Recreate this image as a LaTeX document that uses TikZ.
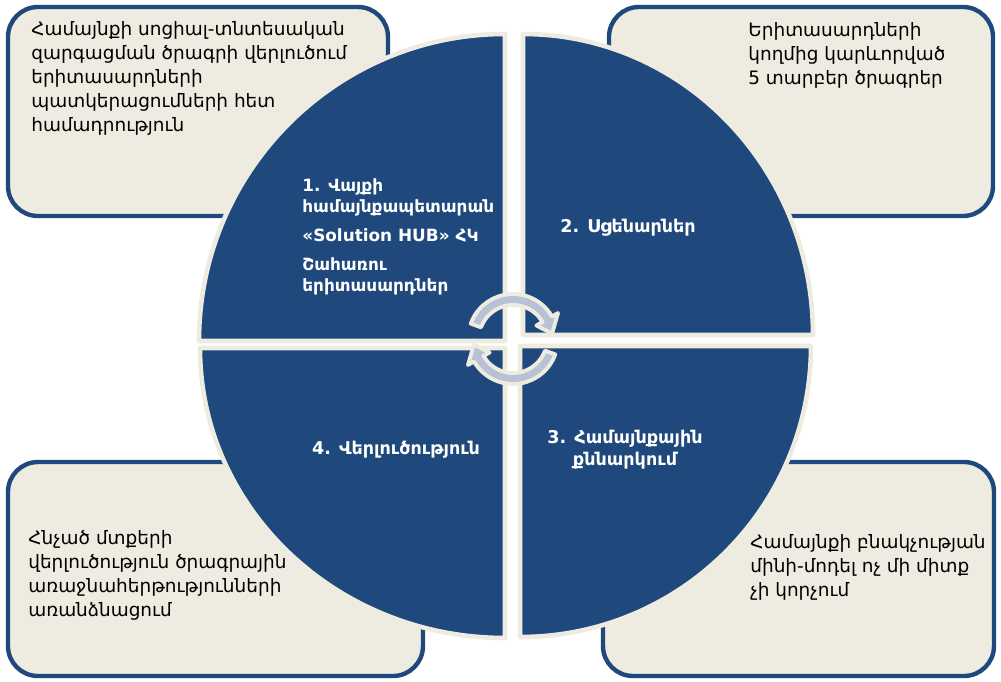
\documentclass[tikz,border=0pt]{standalone}
\usepackage{fontspec}
\setmainfont{DejaVu Sans}
\definecolor{hubblue}{RGB}{31,73,125}
\definecolor{hubbeige}{RGB}{238,236,225}
\definecolor{hubarrow}{RGB}{184,194,214}

\begin{document}
\begin{tikzpicture}[x=0.02cm,y=0.02cm,
  infobox/.style={draw=hubblue, fill=hubbeige, line width=2.5pt, rounded corners=0.6cm},
  quarter/.style={fill=hubblue, draw=hubbeige, line width=2.6pt, line join=round},
  turn/.style={fill=hubarrow, draw=hubbeige, line width=2.2pt, line join=round},
  boxtext/.style={anchor=north west, inner sep=0pt, align=left, font=\fontsize{10.5}{13.7}\selectfont},
  quartertext/.style={inner sep=0pt, text=white, font=\bfseries\fontsize{10}{12.5}\selectfont}]
\useasboundingbox (0,0) rectangle (1001,681);

% the four boxes
\draw[infobox] (8,674) rectangle (388,465);
\draw[infobox] (609,674) rectangle (993,465);
\draw[infobox] (8,219) rectangle (423,5);
\draw[infobox] (603,219) rectangle (994,5);

% the circle, cut in four
\draw[quarter] (505,340) -- (505,647) arc[start angle=90, end angle=180, x radius=306, y radius=307] -- cycle;
\draw[quarter] (523,346) -- (813,346) arc[start angle=0, end angle=90, x radius=290, y radius=301] -- cycle;
\draw[quarter] (520,335) -- (520,44) arc[start angle=270, end angle=360, x radius=291, y radius=291] -- cycle;
\draw[quarter] (505,333) -- (200,333) arc[start angle=180, end angle=270, x radius=305, y radius=290] -- cycle;

% turning arrows
\begin{scope}[shift={(513,342)}]
\draw[turn] (160:45) arc[start angle=160, end angle=30, radius=45] -- (30:52) -- (8:39.5) -- (30:27) -- (30:34) arc[start angle=30, end angle=160, radius=34] -- cycle;
\draw[turn] (-20:45) arc[start angle=-20, end angle=-150, radius=45] -- (-150:52) -- (-172:39.5) -- (-150:27) -- (-150:34) arc[start angle=-150, end angle=-20, radius=34] -- cycle;
\end{scope}

\node[boxtext] (plan) at (31,660) {Համայնքի սոցիալ-տնտեսական\\զարգացման ծրագրի վերլուծում\\երիտասարդների\\պատկերացումների հետ\\համադրություն};
\node[boxtext] (wishes) at (748,659) {Երիտասարդների\\կողմից կարևորված\\5 տարբեր ծրագրեր};
\node[boxtext] (priorities) at (28,151) {Հնչած մտքերի\\վերլուծություն ծրագրային\\առաջնահերթությունների\\առանձնացում};
\node[boxtext] (model) at (750,147) {Համայնքի բնակչության\\մինի-մոդել ոչ մի միտք\\չի կորչում};

\node[quartertext, anchor=north west, align=left, font=\bfseries\fontsize{9.6}{12.3}\selectfont] (actors) at (302,503) {1. Վայքի\\համայնքապետարան\\[4pt]«Solution HUB» ՀԿ\\[4pt]Շահառու\\երիտասարդներ};
\node[quartertext, anchor=west] (scenarios) at (560,453) {2. Սցենարներ};
\node[quartertext, align=center] (discussion) at (625,231) {3. Համայնքային\\քննարկում};
\node[quartertext] (analysis) at (396,231) {4. Վերլուծություն};
\end{tikzpicture}
\end{document}
